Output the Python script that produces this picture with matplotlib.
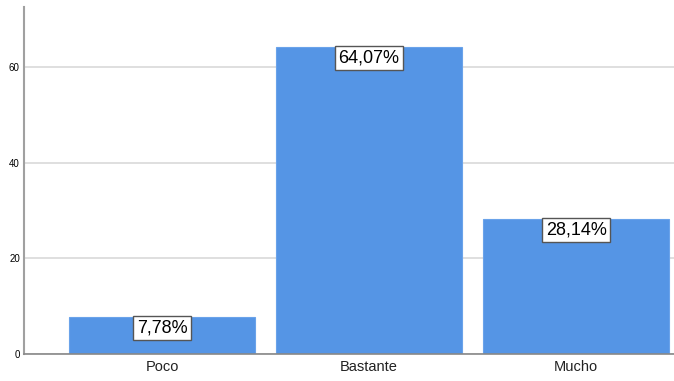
import matplotlib
matplotlib.use('Agg')
import matplotlib.pyplot as plt

categorias = ["Poco", "Bastante", "Mucho"]
porcentajes = [7.78, 64.07, 28.14]
etiquetas = ["7,78%", "64,07%", "28,14%"]
yticks = [0, 20, 40, 60]

plt.rcParams['font.family'] = ['Liberation Sans', 'DejaVu Sans']

fig = plt.figure(figsize=(6.74, 3.81), dpi=100)
ax = fig.add_axes([24/674, 27/381, 650/674, 347/381])

pos = list(range(len(categorias)))
ax.bar(pos, porcentajes, width=0.9, color="#5595e5", edgecolor="#6aa3ea", linewidth=0.8, zorder=2)

for x, v, t in zip(pos, porcentajes, etiquetas):
    ax.text(x, v - 0.5, t, ha="center", va="top", fontsize=13, zorder=3,
            bbox=dict(boxstyle="square,pad=0.2", facecolor="white", edgecolor="#555555", linewidth=1.0))

ax.set_xlim(-0.667, 2.473)
ax.set_ylim(0, 72.5)
ax.set_yticks(yticks)
ax.set_xticks(pos)
ax.set_xticklabels(categorias, fontsize=10.5, color="#222222")
ax.tick_params(axis="y", length=0, labelsize=7, pad=3)
ax.tick_params(axis="x", length=0, pad=4)
ax.yaxis.grid(True, color="#d9d9d9", linewidth=1.2, zorder=0)
ax.set_axisbelow(True)

for s in ["top", "right"]:
    ax.spines[s].set_visible(False)
ax.spines["left"].set_color("#a0a0a0")
ax.spines["left"].set_linewidth(1.5)
ax.spines["bottom"].set_color("#888888")
ax.spines["bottom"].set_linewidth(1.2)

plt.savefig("out.png", dpi=100)
